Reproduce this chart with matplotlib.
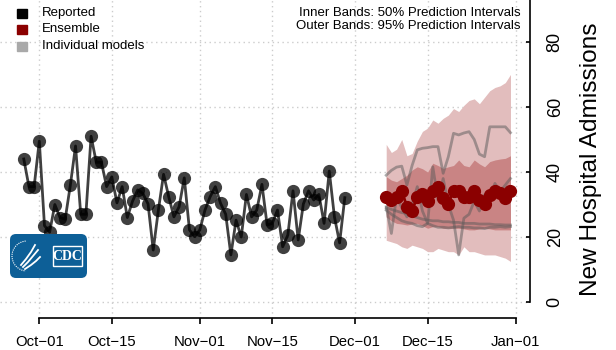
import numpy as np
import pandas as pd
import matplotlib
matplotlib.use('Agg')
import matplotlib.pyplot as plt
import matplotlib.dates as mdates
from matplotlib.patches import FancyBboxPatch, Rectangle, Arc

plt.rcParams['font.family'] = ['Liberation Sans', 'DejaVu Sans']

# reported daily admissions
reported_start = '2023-09-28'
reported = [44, 35.5, 35.5, 49.5, 23.5, 21.5, 30, 26, 25.5, 36, 48, 27, 27, 51, 43, 43, 35.5, 38.5, 30.5, 35.5, 26,
            31, 34.5, 33.4, 30.2, 16, 28.3, 39.3, 32.4, 26.2, 29.3, 38.2, 22.2, 20.1, 22.2, 28.3, 32.4, 35.5, 30.4, 27,
            14.5, 25.2, 20,
            33.1, 26.2, 28.3, 36.2, 23.7, 24.2, 28.3, 17, 20.6, 34.2, 19.1, 30.2, 34.2, 31.4, 33.1, 24.2, 40.3, 26.2,
            18.2, 32.1]

# ensemble forecast
forecast_start = '2023-12-07'
ensemble = [32.2, 31.4, 32.4, 34.3, 29.3, 28.1, 32.4, 33.2, 31.2, 34.3, 35.3, 31.9, 30.2, 34.3, 34.3, 32.2, 32.2,
            34.3, 31.4, 30.2, 32.9, 34.3, 33.4, 31.9, 34.3]
upper95 = [48.5, 46, 47, 50, 45, 45.7, 49.5, 52.5, 53.5, 56, 55, 56.5, 57.5, 59.5, 58.6, 60.5, 62, 62.5, 61, 63,
           65, 66, 66.5, 67.5, 70]
lower95 = [19, 18.5, 18, 17, 16.5, 17.5, 17, 16.5, 15.5, 15.5, 16.5, 16, 15.5, 15.5, 14.5, 17, 15.5, 15.5, 15,
           14.5, 14.5, 14.5, 14, 13.5, 12.5]
upper50 = [38.6, 37.5, 37, 38, 39, 40.6, 41.6, 41, 40, 42.7, 42, 41.1, 41.6, 42, 43.7, 42, 41.6, 43.7, 42.5, 41.6,
           43.2, 43.7, 44, 44.2, 45]
lower50 = [26.2, 25, 24.2, 24, 23.7, 24, 24.2, 23.5, 22.7, 23.2, 23.2, 22.7, 22.7, 22.7, 22.7, 22.5, 22.2, 22.2,
           22.5, 22.7, 22.5, 22.2, 22.2, 22.2, 22.2]

# individual models
model_a = [39, 40.5, 41.5, 41.8, 36, 42, 46.8, 47.3, 47.5, 47.8, 47.8, 39.6, 44.7, 51.9, 51.4, 52, 52.4, 50,
           45.5, 44.7, 53.9, 53.9, 53.9, 53.9, 52.1]
model_b = [29.3, 21.1, 32.4, 29, 26.2, 30, 35.5, 28, 24.2, 41.6, 31.4, 38, 30, 25.2, 14.5, 25.8, 27, 31, 28, 33,
           32, 36.5, 34, 36, 38]
model_c = [29, 28.5, 28, 27.5, 27.3, 26.5, 26, 25.5, 25.2, 25, 25, 24.7, 24.7, 24.5, 24.5, 24.2, 24.2, 24.2, 24,
           24, 24, 23.8, 23.8, 23.7, 23.7]
model_d = [28.3, 27, 26, 25, 24.5, 24.2, 23.5, 23.2, 24.2, 23.5, 23, 23, 22.8, 23, 23.2, 23, 23, 22.8, 22.8,
           22.6, 23, 23, 23.2, 23, 23.2]
models = [model_a, model_b, model_c, model_d]

tick_dates = ['2023-10-01', '2023-10-15', '2023-11-01', '2023-11-15', '2023-12-01', '2023-12-15', '2024-01-01']
tick_labels = ['Oct\u221201', 'Oct\u221215', 'Nov\u221201', 'Nov\u221215', 'Dec\u221201', 'Dec\u221215', 'Jan\u221201']
y_ticks = [0, 20, 40, 60, 80]

W, H = 616, 350
fig = plt.figure(figsize=(W / 100, H / 100), dpi=100)
ax = fig.add_axes([0, 1 - 318 / H, 530 / W, 318 / H])

x_rep = mdates.date2num(pd.date_range(reported_start, periods=len(reported)))
x_fc = mdates.date2num(pd.date_range(forecast_start, periods=len(ensemble)))
t_ticks = mdates.date2num(pd.to_datetime(tick_dates))

# grid
for v in y_ticks:
    ax.axhline(v, color='#cccccc', lw=1, ls=(0, (1, 2.5)), zorder=0)
for t in t_ticks:
    ax.axvline(t, color='#cccccc', lw=1, ls=(0, (1, 2.5)), zorder=0)

ax.fill_between(x_fc, lower95, upper95, color='#e2bdbd', lw=0, zorder=1)
ax.fill_between(x_fc, lower50, upper50, color='#c98484', lw=0, zorder=2)
for m in models:
    ax.plot(x_fc, m, color='#5a5a5a', alpha=0.5, lw=2, zorder=3)
ax.plot(x_fc, ensemble, color='darkred', lw=2, marker='o', ms=8.5, zorder=4)

ax.plot(x_rep, reported, color='black', alpha=0.75, lw=2, marker='o', ms=9.5, mec='none', zorder=4)

ax.set_xlim(t_ticks[0] - 7.59, t_ticks[0] + 94.77)
ax.set_ylim(-4.9, 92.9)

ax.set_xticks(t_ticks)
ax.set_xticklabels(tick_labels, fontsize=10.7)
ax.tick_params(axis='x', direction='out', length=4, width=1.2, pad=8)

ax.yaxis.tick_right()
ax.yaxis.set_label_position('right')
ax.set_yticks(y_ticks)
ax.set_yticklabels([str(v) for v in y_ticks], rotation=90, va='center', fontsize=13)
ax.tick_params(axis='y', direction='in', length=3, width=1.2, pad=12)
ax.set_ylabel('New Hospital Admissions', fontsize=17.6, labelpad=12)

ax.spines['top'].set_visible(False)
ax.spines['left'].set_visible(False)
ax.spines['bottom'].set_bounds(t_ticks[0], t_ticks[-1])
ax.spines['bottom'].set_linewidth(1.2)
ax.spines['right'].set_bounds(0, 100)
ax.spines['right'].set_linewidth(1.2)

# legend drawn by hand
leg_items = [('Reported', 'black'), ('Ensemble', 'darkred'), ('Individual models', '#a9a9a9')]
for i, (lab, col) in enumerate(leg_items):
    yc = 13 + i * 16.5
    fig.add_artist(Rectangle((17 / W, 1 - (yc + 4.5) / H), 10 / W, 9 / H, color=col,
                             transform=fig.transFigure))
    fig.text(42 / W, 1 - yc / H, lab, fontsize=9.5, va='center', ha='left')

fig.text(521 / W, 1 - 13 / H, 'Inner Bands: 50% Prediction Intervals', fontsize=9.5, ha='right', va='center')
fig.text(521 / W, 1 - 26 / H, 'Outer Bands: 95% Prediction Intervals', fontsize=9.5, ha='right', va='center')

# CDC logo (simplified)
lax = fig.add_axes([9 / W, 1 - 279 / H, 79 / W, 46 / H])
lax.set_xlim(0, 79)
lax.set_ylim(0, 46)
lax.axis('off')
lax.add_patch(FancyBboxPatch((1, 1), 77, 44, boxstyle='round,pad=0,rounding_size=6',
                             fc='#0d5f97', ec='none'))
lax.add_patch(Arc((18, 23), 30, 30, theta1=95, theta2=265, color='white', lw=0.8, ls=(0, (1, 1))))
lax.plot([12, 17, 22, 26], [14, 20, 27, 34], color='white', lw=1.3)
lax.plot([14, 19, 24, 29], [12, 17, 23, 29], color='white', lw=1.3)
lax.plot([16, 22, 27, 31], [10, 14, 18, 22], color='white', lw=1.3)
lax.add_patch(Rectangle((44, 13), 29, 20, fc='none', ec='white', lw=1))
lax.text(58.5, 23, 'CDC', color='white', fontsize=10, fontweight='bold', ha='center', va='center',
         family='Liberation Serif')

fig.savefig('out.png', dpi=100)
